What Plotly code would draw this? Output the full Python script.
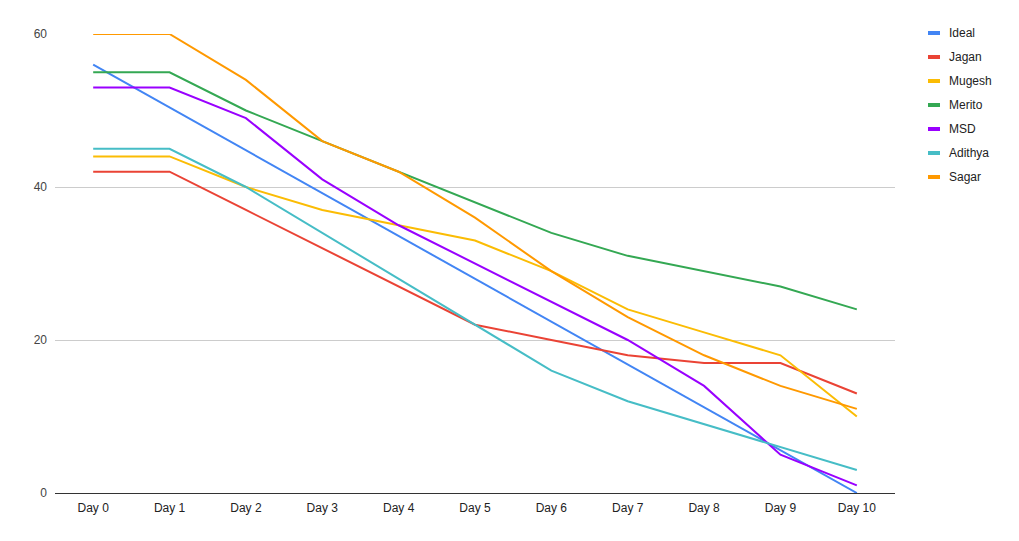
import plotly.graph_objects as go

days = ["Day 0", "Day 1", "Day 2", "Day 3", "Day 4", "Day 5", "Day 6", "Day 7", "Day 8", "Day 9", "Day 10"]
ideal = [56, 50.4, 44.8, 39.2, 33.6, 28, 22.4, 16.8, 11.2, 5.6, 0]
jagan = [42, 42, 37, 32, 27, 22, 20, 18, 17, 17, 13]
mugesh = [44, 44, 40, 37, 35, 33, 29, 24, 21, 18, 10]
merito = [55, 55, 50, 46, 42, 38, 34, 31, 29, 27, 24]
msd = [53, 53, 49, 41, 35, 30, 25, 20, 14, 5, 1]
adithya = [45, 45, 40, 34, 28, 22, 16, 12, 9, 6, 3]
sagar = [60, 60, 54, 46, 42, 36, 29, 23, 18, 14, 11]

names = ["Ideal", "Jagan", "Mugesh", "Merito", "MSD", "Adithya", "Sagar"]
series = [ideal, jagan, mugesh, merito, msd, adithya, sagar]
colors = ["#4285F4", "#EA4335", "#FBBC04", "#34A853", "#9900FF", "#46BDC6", "#FF9900"]
yticks = [0, 20, 40, 60]

fig = go.Figure()
for n, s, c in zip(names, series, colors):
    fig.add_trace(go.Scatter(x=days, y=s, name=n, mode="lines",
                             line=dict(color=c, width=2), showlegend=False))

# page offset (body margin) compensation
OFF = 8
L, R, T, B = 55 - OFF, 895 - OFF, 34 - OFF, 493 - OFF
W, H = R - L, B - T
for i, (n, c) in enumerate(zip(names, colors)):
    py = 33 + 24 * i - OFF
    yp = (B - py) / H
    fig.add_shape(type="line", xref="paper", yref="paper",
                  x0=(928 - OFF - L) / W, x1=(940 - OFF - L) / W, y0=yp, y1=yp,
                  line=dict(color=c, width=4))
    fig.add_annotation(xref="paper", yref="paper", x=(947 - OFF - L) / W, y=yp,
                       text=n, showarrow=False, xanchor="left", yanchor="middle",
                       font=dict(size=12, color="#222222", family="Liberation Sans, Arial, sans-serif"))

fig.update_layout(
    width=1019, height=541,
    margin=dict(l=L, r=1019 - R, t=T, b=541 - B),
    paper_bgcolor="white", plot_bgcolor="white",
    font=dict(family="Liberation Sans, Arial, sans-serif", size=12, color="#444444"),
    showlegend=False,
)
fig.update_xaxes(type="category", range=[-0.5, 10.5], showgrid=False, showline=True,
                 linecolor="#333333", linewidth=1, ticks="", ticklabelstandoff=4,
                 tickfont=dict(size=12, color="#222222"))
fig.update_yaxes(range=[0, 60], tickvals=yticks, showgrid=True, gridcolor="#cccccc",
                 gridwidth=1, zeroline=False, showline=False, ticks="",
                 ticklabelstandoff=7, tickfont=dict(size=12, color="#444444"))

fig.write_html("out.html")
